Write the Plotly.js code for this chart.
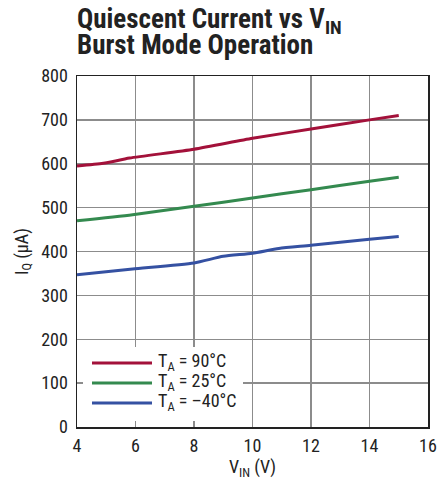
<!DOCTYPE html>
<html><head><meta charset="utf-8">
<script src="https://cdn.plot.ly/plotly-3.0.1.min.js"></script>
<style>html,body{margin:0;padding:0;background:#fff}</style>
</head><body>
<div id="chart" style="width:439px;height:484px"></div>
<script>
const vin90 = [4, 4.9, 5.8, 8.0, 10.0, 12.0, 14.0, 15.0];
const iq90  = [595, 601, 613, 633, 658, 679, 700, 710];
const vin25 = [4, 5.9, 8.0, 10.0, 12.0, 14.0, 15.0];
const iq25  = [470, 484, 503, 522, 541, 560, 569];
const vinM40 = [4, 5.9, 8.0, 9.0, 10.0, 10.9, 12.0, 14.0, 15.0];
const iqM40  = [347, 360, 374, 389, 396, 407, 414, 428, 434];
const seriesNames = ['T<sub>A</sub> = 90°C', 'T<sub>A</sub> = 25°C', 'T<sub>A</sub> = –40°C'];
const colors = ['#a3113a', '#348a4f', '#3551a2'];
const xTicks = [4, 6, 8, 10, 12, 14, 16];
const yTicks = [0, 100, 200, 300, 400, 500, 600, 700, 800];

const FONT = 'Roboto Condensed, DejaVu Sans Condensed, sans-serif';
const xs = [vin90, vin25, vinM40], ys = [iq90, iq25, iqM40];
const traces = xs.map((x, i) => ({
  x: x, y: ys[i], type: 'scatter', mode: 'lines', name: seriesNames[i],
  line: {color: colors[i], width: 3, shape: 'spline', smoothing: 0.6},
  showlegend: false, hoverinfo: 'skip'
}));

// custom legend (paper coordinates)
const plotH = 351, plotW = 351;
const legRows = [363, 383, 403];
const shapes = [{
  type: 'rect', xref: 'paper', yref: 'paper',
  x0: (83 - 77) / plotW, x1: (243 - 77) / plotW,
  y0: (427 - 421) / plotH, y1: (427 - 347) / plotH,
  fillcolor: '#fff', line: {width: 0}, layer: 'above'
}];
const annotations = [];
legRows.forEach((py, i) => {
  const yp = (427 - py) / plotH;
  shapes.push({type: 'line', xref: 'paper', yref: 'paper', x0: (92 - 77) / plotW, x1: (152 - 77) / plotW,
    y0: yp, y1: yp, line: {color: colors[i], width: 3}, layer: 'above'});
  annotations.push({xref: 'paper', yref: 'paper', x: (156 - 77) / plotW, y: yp + 1 / plotH, xanchor: 'left', yanchor: 'middle',
    text: seriesNames[i], showarrow: false, font: {family: FONT, size: 18, color: '#222'}});
});
annotations.push({xref: 'paper', yref: 'paper', x: 0, xshift: -2, y: (427 - 21) / plotH, xanchor: 'left', yanchor: 'middle',
  text: '<b>Quiescent Current vs V<sub>IN</sub></b>', showarrow: false, font: {family: FONT, size: 27, color: '#222'}});
annotations.push({xref: 'paper', yref: 'paper', x: 0, xshift: -2, y: (427 - 44.5) / plotH, xanchor: 'left', yanchor: 'middle',
  text: '<b>Burst Mode Operation</b>', showarrow: false, font: {family: FONT, size: 27, color: '#222'}});

const layout = {
  width: 439, height: 484,
  margin: {l: 77, r: 11, t: 76, b: 57},
  paper_bgcolor: '#fff', plot_bgcolor: '#fff',
  font: {family: FONT, size: 18, color: '#222'},
  xaxis: {range: [4, 16], tickvals: xTicks, ticktext: xTicks.map(String), showgrid: true,
    gridcolor: '#8c8c8c', gridwidth: 1.5, showline: true, linecolor: '#222', linewidth: 1.5, mirror: true,
    ticks: '', zeroline: false, ticklabelstandoff: 2,
    title: {text: 'V<sub>IN</sub> (V)', font: {family: FONT, size: 18, color: '#222'}, standoff: 4}},
  yaxis: {range: [0, 800], tickvals: yTicks, ticktext: yTicks.map(String), showgrid: true,
    gridcolor: '#8c8c8c', gridwidth: 1.5, showline: true, linecolor: '#222', linewidth: 1.5, mirror: true,
    ticks: '', zeroline: false, ticklabelstandoff: 4,
    title: {text: 'I<sub>Q</sub> (µA)', font: {family: FONT, size: 18, color: '#222'}, standoff: 8}},
  shapes: shapes, annotations: annotations, showlegend: false
};
Plotly.newPlot('chart', traces, layout, {displayModeBar: false, staticPlot: true});
</script>
</body></html>
